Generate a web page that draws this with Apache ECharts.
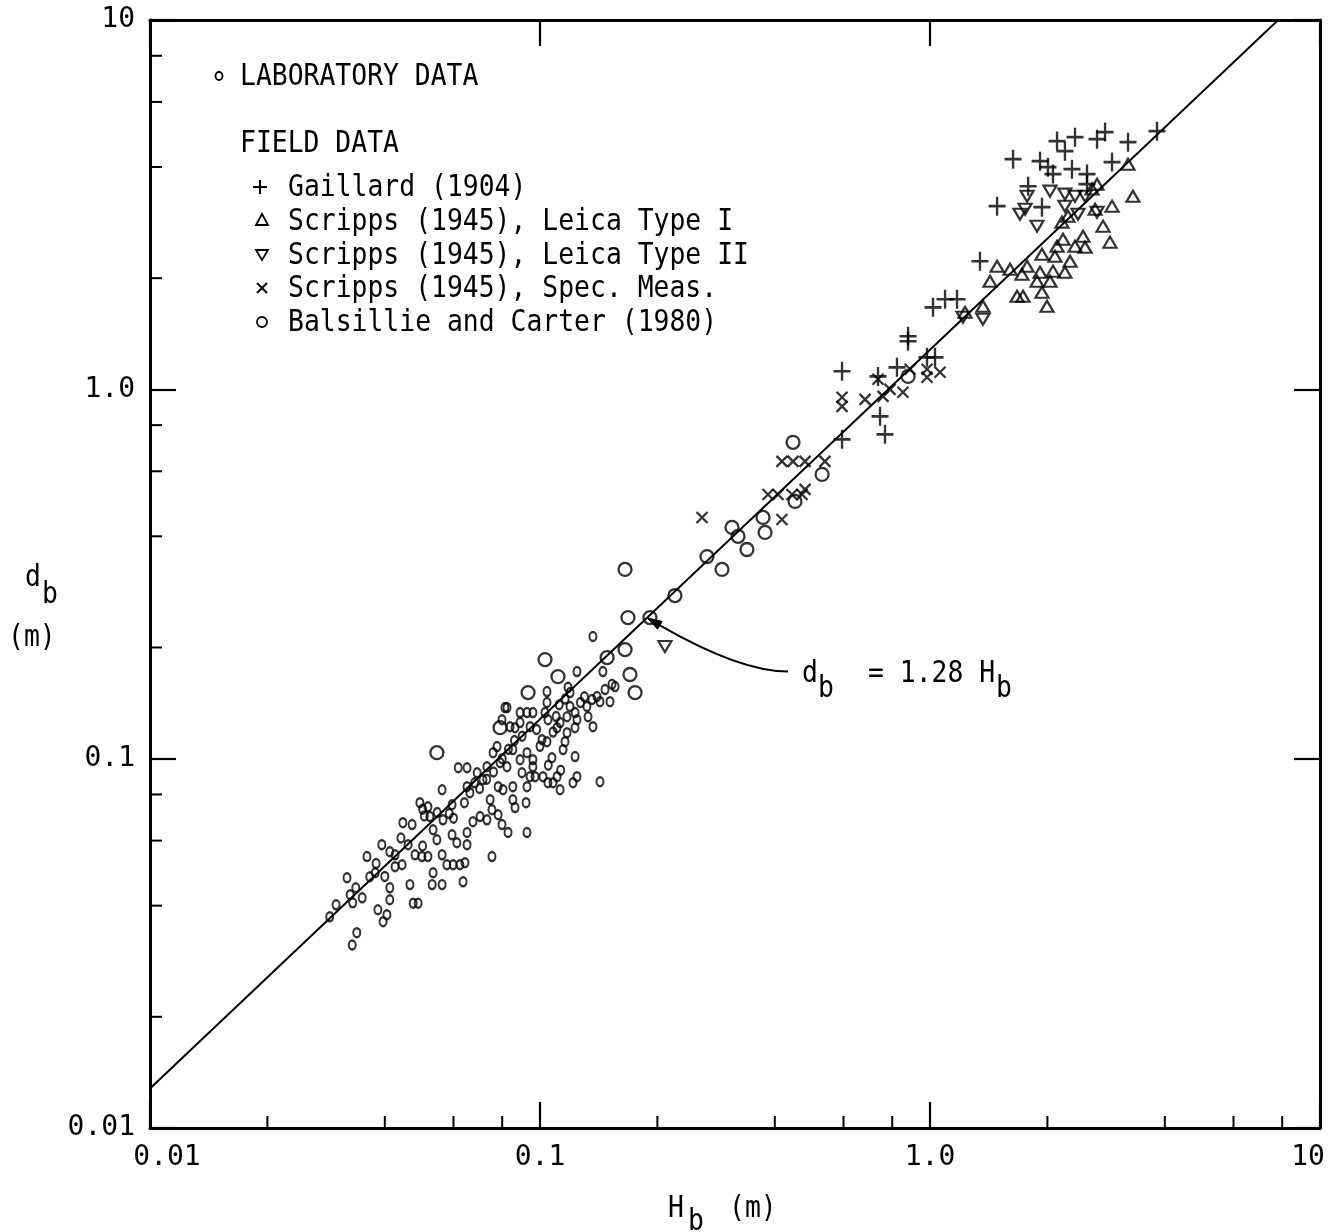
<!DOCTYPE html>
<html>
<head>
<meta charset="utf-8">
<title>Breaker depth versus breaker height</title>
<script src="https://cdn.jsdelivr.net/npm/echarts@6/dist/echarts.min.js"></script>
<style>
  html, body { margin: 0; padding: 0; background: #ffffff; }
  #chart { width: 1343px; height: 1232px; }
</style>
</head>
<body>
<div id="chart"></div>
<script>
// Breaker depth d_b against breaker height H_b (metres), log-log axes.
const AXIS_MIN = 0.01;
const AXIS_MAX = 10;
const X_TICK_LABELS = ['0.01', '0.1', '1.0', '10'];
const Y_TICK_LABELS = ['0.01', '0.1', '1.0', '10'];
const MINOR_STEPS = [2, 4, 6, 8];
const DECADES = [0.01, 0.1, 1];

// Fitted relation d_b = 1.28 H_b
const FIT_RATIO = 1.28;
const FIT_H = [0.01, 10];

// Pairs are [H_b, d_b]
const labData = [
  [0.0289,0.0373],[0.0300,0.0402],[0.0320,0.0476],[0.0326,0.0428],[0.0337,0.0447],[0.0331,0.0407],
  [0.0330,0.0313],[0.0339,0.0338],[0.0360,0.0543],[0.0366,0.0479],[0.0378,0.0491],[0.0384,0.0390],
  [0.0396,0.0362],[0.0405,0.0378],[0.0393,0.0585],[0.0412,0.0560],[0.0412,0.0447],[0.0412,0.0415],
  [0.0425,0.0510],[0.0443,0.0516],[0.0445,0.0671],[0.0470,0.0663],[0.0459,0.0585],[0.0478,0.0549],
  [0.0464,0.0456],[0.0473,0.0406],[0.0487,0.0406],[0.0492,0.0760],[0.0516,0.0741],[0.0522,0.0697],
  [0.0498,0.0543],[0.0516,0.0543],[0.0532,0.0642],[0.0544,0.0603],[0.0561,0.0549],[0.0577,0.0516],
  [0.0599,0.0516],[0.0623,0.0516],[0.0642,0.0523],[0.0532,0.0491],[0.0529,0.0456],[0.0561,0.0456],
  [0.0635,0.0464],[0.0561,0.0824],[0.0595,0.0750],[0.0564,0.0683],[0.0595,0.0622],[0.0612,0.0592],
  [0.0650,0.0585],[0.0650,0.0631],[0.0617,0.0945],[0.0650,0.0945],[0.0650,0.0840],[0.0661,0.0809],
  [0.0673,0.0675],[0.0702,0.0697],[0.0690,0.0916],[0.0714,0.0877],[0.0745,0.0774],[0.0753,0.0727],
  [0.0753,0.0543],[0.0731,0.0683],[0.0781,0.0705],[0.0799,0.0663],[0.0828,0.0631],[0.0781,0.0840],
  [0.0804,0.0824],[0.0852,0.0840],[0.0852,0.0774],[0.0863,0.0737],[0.0926,0.0631],[0.0921,0.0760],
  [0.0731,0.0951],[0.0758,0.1038],[0.0790,0.0975],[0.0823,0.0951],[0.0776,0.1078],[0.0799,0.1275],
  [0.0823,0.1375],[0.0838,0.1221],[0.0863,0.1213],[0.0889,0.1252],[0.0889,0.1333],[0.0926,0.1333],
  [0.0959,0.1333],[0.0943,0.1221],[0.0852,0.1058],[0.0889,0.0994],[0.0926,0.1038],[0.0959,0.0994],
  [0.0899,0.0916],[0.0943,0.0894],[0.0926,0.0840],[0.0959,0.0951],[0.0971,0.0894],[0.1012,0.1126],
  [0.1042,0.1112],[0.1073,0.1006],[0.1018,0.0894],[0.1048,0.0861],[0.1080,0.0861],[0.1126,0.0824],
  [0.1106,0.0894],[0.1146,0.1058],[0.1159,0.1112],[0.1230,0.1013],[0.1215,0.0861],[0.1244,0.0894],
  [0.1030,0.1333],[0.1042,0.1519],[0.1042,0.1419],[0.1048,0.1275],[0.1106,0.1213],[0.1126,0.1252],
  [0.1173,0.1299],[0.1173,0.1176],[0.1194,0.1384],[0.1230,0.1333],[0.1244,0.1275],[0.1230,0.1213],
  [0.1244,0.1721],[0.1194,0.1510],[0.1319,0.1384],[0.1328,0.1299],[0.1367,0.1221],[0.1359,0.1445],
  [0.1400,0.1473],[0.1425,0.1427],[0.1468,0.1538],[0.1512,0.1427],[0.1530,0.1590],[0.1558,0.1567],
  [0.1450,0.1721],[0.1425,0.0866],[0.1367,0.2141],[0.0813,0.1375],
  [0.0425,0.0549],[0.0500,0.0730],[0.0505,0.0700],[0.0545,0.0715],[0.0585,0.0710],[0.0600,0.0690],
  [0.0640,0.0760],[0.0680,0.0860],[0.0700,0.0830],[0.0730,0.0880],[0.0760,0.0920],[0.0800,0.1000],
  [0.0830,0.1060],[0.0860,0.1120],[0.0900,0.1150],[0.0980,0.1200],[0.1000,0.1080],[0.1080,0.1180],
  [0.1100,0.1300],[0.1120,0.1400],[0.1160,0.1450],[0.1180,0.1560],[0.1270,0.1420],[0.1300,0.1470],
  [0.1050,0.0960],[0.1130,0.0930],[0.0500,0.0580],[0.0440,0.0610],[0.0380,0.0520],[0.0400,0.0480],
  [0.0350,0.0420]
];

const gaillard = [
  [0.5949,1.119],[0.7357,1.084],[0.8229,1.147],[0.5949,0.7320],[0.7446,0.8452],[0.7667,0.7553],
  [0.8785,1.392],[0.8785,1.350],[1.018,1.667],[1.093,1.753],[1.173,1.753],[0.9825,1.221],
  [1.030,1.221],[2.117,4.700],[2.354,4.818],[2.681,4.757],[2.811,4.972],[3.219,4.670],
  [3.820,5.000],[1.633,4.200],[1.915,4.148],[2.007,3.996],[2.067,3.826],[2.312,3.946],
  [2.527,3.826],[2.929,4.124],[2.218,4.415],[1.785,3.548],[1.486,3.133],[1.937,3.113],
  [1.343,2.222],[2.527,3.593]
];

const leicaTypeI = [
  [3.219,4.071],[3.314,3.334],[2.929,3.133],[2.650,3.075],[2.778,2.766],[2.894,2.503],
  [2.498,2.426],[2.286,2.222],[2.091,2.293],[1.937,2.322],[1.486,2.155],[1.604,2.115],
  [1.425,1.962],[1.774,2.155],[1.721,2.049],[1.915,2.075],[2.067,2.089],[2.218,2.075],
  [1.881,1.962],[2.031,1.962],[1.672,1.786],[1.732,1.786],[1.937,1.832],[1.995,1.679],
  [1.367,1.679],[2.180,2.836],[2.258,2.944],[2.193,2.550],[2.117,2.440],[2.354,2.440],
  [2.468,2.598],[2.603,3.485],[2.681,3.593],[1.230,1.617]
];

const leicaTypeII = [
  [2.031,3.441],[1.774,3.334],[1.701,2.980],[1.753,3.075],[1.881,2.766],[2.218,3.377],
  [2.354,3.334],[2.498,3.334],[2.218,3.133],[2.396,2.980],[2.681,3.017],[1.215,1.567],
  [1.367,1.548],[0.2091,0.2011]
];

const specMeas = [
  [0.2603,0.4499],[0.3842,0.5193],[0.4077,0.5193],[0.4427,0.5193],[0.4698,0.5193],[0.4781,0.5358],
  [0.4172,0.6380],[0.4455,0.6380],[0.4781,0.6380],[0.5378,0.6380],[0.4172,0.4443],[0.5949,0.9516],
  [0.5949,0.8991],[0.6815,0.9396],[0.7357,1.0645],[0.7578,0.9571],[0.7900,1.000],[0.8523,0.9817],
  [0.8888,1.133],[0.9825,1.078],[1.061,1.112],[0.9825,1.133]
];

const balsillieCarter = [
  [0.1652,0.3254],[0.2218,0.2765],[0.1681,0.2410],[0.1914,0.2410],[0.1486,0.1878],[0.1652,0.1974],
  [0.1030,0.1855],[0.1112,0.1668],[0.1701,0.1690],[0.1753,0.1510],[0.0932,0.1510],[0.0790,0.1213],
  [0.0544,0.1038],[0.4455,0.7187],[0.5288,0.5884],[0.4507,0.4972],[0.3731,0.4499],[0.3776,0.4097],
  [0.3107,0.4228],[0.3219,0.4000],[0.3393,0.3684],[0.2680,0.3526],[0.2929,0.3254],[0.8785,1.084]
];

// Where the arrow from the equation label meets the fitted line, and where it starts
const ARROW_TIP_H = 0.188;
const ARROW_START = [0.4325, 0.1722];

const FONT = '"DejaVu Sans Mono", "Liberation Mono", monospace';
const INK = '#000000';

const minorValues = [];
DECADES.forEach(d => MINOR_STEPS.forEach(s => minorValues.push(d * s)));

function decadeIndex(v) { return Math.round(Math.log10(v)) + 2; }

const hollow = { color: 'rgba(0,0,0,0)', borderColor: INK, borderWidth: 2.2 };
const ELLIPSE = 'path://M5,0A5,6,0,1,1,5,12A5,6,0,1,1,5,0Z';
const PLUS = 'path://M0,9L16,9M8,0L8,18';
const CROSS = 'path://M0,0L10,10M10,0L0,10';

function tickSeries(data, horizontal) {
  return {
    type: 'custom',
    coordinateSystem: 'cartesian2d',
    silent: true,
    clip: false,
    z: 5,
    data: data,
    renderItem: function (params, api) {
      const p = api.coord([api.value(0), api.value(1)]);
      const len = 12;
      return {
        type: 'line',
        shape: horizontal
          ? { x1: p[0], y1: p[1], x2: p[0] + len, y2: p[1] }
          : { x1: p[0], y1: p[1], x2: p[0], y2: p[1] - len },
        style: { stroke: INK, lineWidth: 2 }
      };
    }
  };
}

const chart = echarts.init(document.getElementById('chart'), null, { renderer: 'canvas' });

const axisLine = { show: true, onZero: false, lineStyle: { color: INK, width: 3 } };
const majorTick = { show: true, inside: true, length: 26, lineStyle: { color: INK, width: 2.2 } };

chart.setOption({
  animation: false,
  backgroundColor: '#ffffff',
  grid: { left: 150, right: 23, top: 20, bottom: 104, containLabel: false },
  xAxis: [
    {
      type: 'log', logBase: 10, min: AXIS_MIN, max: AXIS_MAX, position: 'bottom',
      axisLine: axisLine, axisTick: majorTick, splitLine: { show: false },
      axisLabel: {
        margin: 16, color: INK, fontFamily: FONT, fontSize: 28,
        formatter: function (v) {
          const i = decadeIndex(v);
          if (i === 0) return '{first|' + X_TICK_LABELS[i] + '}';
          if (i === X_TICK_LABELS.length - 1) return '{last|' + X_TICK_LABELS[i] + '}';
          return X_TICK_LABELS[i];
        },
        rich: {
          first: { fontFamily: FONT, fontSize: 28, color: INK, padding: [0, 0, 0, 34] },
          last: { fontFamily: FONT, fontSize: 28, color: INK, padding: [0, 24, 0, 0] }
        }
      }
    },
    {
      type: 'log', logBase: 10, min: AXIS_MIN, max: AXIS_MAX, position: 'top',
      axisLine: axisLine, axisTick: majorTick, axisLabel: { show: false }, splitLine: { show: false }
    }
  ],
  yAxis: [
    {
      type: 'log', logBase: 10, min: AXIS_MIN, max: AXIS_MAX, position: 'left',
      axisLine: axisLine, axisTick: majorTick, splitLine: { show: false },
      axisLabel: {
        margin: 15, color: INK, fontFamily: FONT, fontSize: 28,
        formatter: function (v) { return Y_TICK_LABELS[decadeIndex(v)]; }
      }
    },
    {
      type: 'log', logBase: 10, min: AXIS_MIN, max: AXIS_MAX, position: 'right',
      axisLine: axisLine, axisTick: majorTick, axisLabel: { show: false }, splitLine: { show: false }
    }
  ],
  series: [
    {
      name: 'd_b = 1.28 H_b', type: 'line', showSymbol: false, silent: true, clip: true, z: 3,
      lineStyle: { color: INK, width: 2 },
      data: FIT_H.map(h => [h, FIT_RATIO * h])
    },
    {
      name: 'LABORATORY DATA', type: 'scatter', symbol: ELLIPSE, symbolSize: [7, 9], z: 4,
      itemStyle: hollow, data: labData
    },
    {
      name: 'Gaillard (1904)', type: 'scatter', symbol: PLUS, symbolSize: [17, 19], z: 4,
      itemStyle: { color: 'rgba(0,0,0,0)', borderColor: INK, borderWidth: 2.5 }, data: gaillard
    },
    {
      name: 'Scripps (1945), Leica Type I', type: 'scatter', symbol: 'triangle', symbolSize: [13, 11], z: 4,
      itemStyle: hollow, data: leicaTypeI
    },
    {
      name: 'Scripps (1945), Leica Type II', type: 'scatter', symbol: 'triangle', symbolRotate: 180,
      symbolSize: [13, 11], z: 4, itemStyle: hollow, data: leicaTypeII
    },
    {
      name: 'Scripps (1945), Spec. Meas.', type: 'scatter', symbol: CROSS, symbolSize: [11, 11], z: 4,
      itemStyle: { color: 'rgba(0,0,0,0)', borderColor: INK, borderWidth: 2.3 }, data: specMeas
    },
    {
      name: 'Balsillie and Carter (1980)', type: 'scatter', symbol: 'circle', symbolSize: 13, z: 4,
      itemStyle: { color: 'rgba(0,0,0,0)', borderColor: INK, borderWidth: 2.3 }, data: balsillieCarter
    },
    tickSeries(minorValues.map(v => [v, AXIS_MIN]), false),
    tickSeries(minorValues.map(v => [AXIS_MIN, v]), true)
  ]
});

// Text pieces, legend keys and the annotation arrow
function label(x, y, s, size, extra) {
  return Object.assign({
    type: 'text', x: x, y: y, scaleX: 0.88, z: 10, silent: true,
    style: {
      text: s, fontFamily: FONT, fontSize: size, fill: INK,
      align: 'left', textAlign: 'left', verticalAlign: 'middle', textVerticalAlign: 'middle'
    }
  }, extra || {});
}
function seg(x1, y1, x2, y2, w) {
  return { type: 'line', z: 10, silent: true, shape: { x1, y1, x2, y2 }, style: { stroke: INK, lineWidth: w || 2 } };
}

const toPx = p => chart.convertToPixel({ xAxisIndex: 0, yAxisIndex: 0 }, p);
const tip = toPx([ARROW_TIP_H, FIT_RATIO * ARROW_TIP_H]);
const start = toPx(ARROW_START);
const cp = [start[0] - 0.34 * (start[0] - tip[0]), start[1]];
let dx = tip[0] - cp[0], dy = tip[1] - cp[1];
const dl = Math.hypot(dx, dy); dx /= dl; dy /= dl;
const headL = 15, headW = 4.5;
const headBase = [tip[0] - dx * headL, tip[1] - dy * headL];

const LEG_SIZE = 30;
const graphics = [
  // laboratory heading
  { type: 'ellipse', z: 10, silent: true, shape: { cx: 219, cy: 76, rx: 3.5, ry: 4 }, style: { fill: 'none', stroke: INK, lineWidth: 1.8 } },
  label(240, 77, 'LABORATORY DATA', LEG_SIZE),
  label(240, 144, 'FIELD DATA', LEG_SIZE),
  // field keys
  seg(253, 187, 267, 187, 2), seg(260, 180, 260, 194, 2),
  label(288, 188, 'Gaillard (1904)', LEG_SIZE),
  { type: 'polygon', z: 10, silent: true, shape: { points: [[262, 214], [256, 225], [268, 225]] }, style: { fill: 'none', stroke: INK, lineWidth: 1.8 } },
  label(288, 222, 'Scripps (1945), Leica Type I', LEG_SIZE),
  { type: 'polygon', z: 10, silent: true, shape: { points: [[256, 250], [268, 250], [262, 260]] }, style: { fill: 'none', stroke: INK, lineWidth: 1.8 } },
  label(288, 256, 'Scripps (1945), Leica Type II', LEG_SIZE),
  seg(257, 283, 267, 293, 2), seg(267, 283, 257, 293, 2),
  label(288, 289, 'Scripps (1945), Spec. Meas.', LEG_SIZE),
  { type: 'circle', z: 10, silent: true, shape: { cx: 262, cy: 322, r: 5 }, style: { fill: 'none', stroke: INK, lineWidth: 1.8 } },
  label(288, 323, 'Balsillie and Carter (1980)', LEG_SIZE),
  // axis titles
  label(25, 578, 'd', LEG_SIZE),
  label(42, 595, 'b', LEG_SIZE),
  label(8, 638, '(m)', LEG_SIZE),
  label(668, 1209, 'H', LEG_SIZE),
  label(688, 1222, 'b', LEG_SIZE),
  label(729, 1209, '(m)', LEG_SIZE),
  // equation
  label(start[0] + 14, start[1] + 3, 'd', LEG_SIZE),
  label(start[0] + 30, start[1] + 18, 'b', LEG_SIZE),
  label(start[0] + 80, start[1] + 3, '= 1.28 H', LEG_SIZE),
  label(start[0] + 208, start[1] + 18, 'b', LEG_SIZE),
  {
    type: 'bezierCurve', z: 10, silent: true,
    shape: { x1: start[0], y1: start[1], cpx1: cp[0], cpy1: cp[1], x2: headBase[0], y2: headBase[1] },
    style: { fill: 'none', stroke: INK, lineWidth: 2 }
  },
  {
    type: 'polygon', z: 10, silent: true,
    shape: { points: [tip, [headBase[0] - dy * headW, headBase[1] + dx * headW], [headBase[0] + dy * headW, headBase[1] - dx * headW]] },
    style: { fill: INK, stroke: INK, lineWidth: 1 }
  }
];

chart.setOption({ graphic: graphics });
</script>
</body>
</html>
